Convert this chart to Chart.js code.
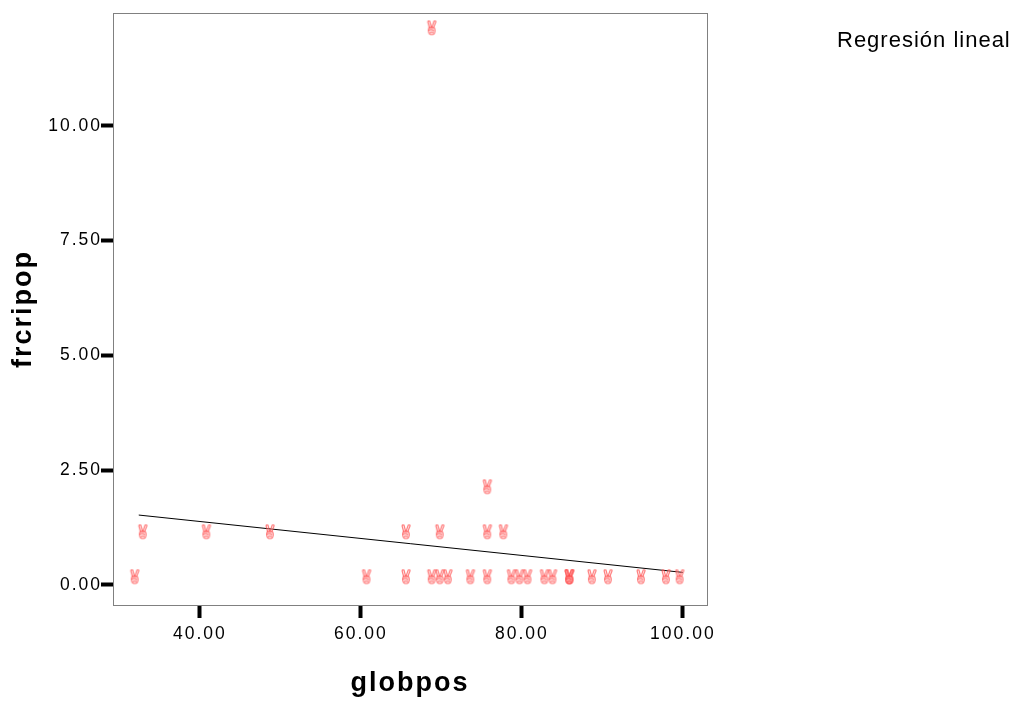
<!DOCTYPE html>
<html>
<head>
<meta charset="utf-8">
<script src="https://cdn.jsdelivr.net/npm/chart.js@4"></script>
<style>
  html, body { margin: 0; padding: 0; background: #fff; }
  #wrap { width: 1016px; height: 701px; }
</style>
</head>
<body>
<div id="wrap"><canvas id="chart"></canvas></div>
<script>
const globpos = [31.9, 32.9, 40.8, 48.7, 60.7, 65.6, 65.6, 68.8, 68.8, 69.8, 69.8, 70.8, 73.6,
  75.7, 75.7, 75.7, 77.7, 78.7, 79.7, 80.7, 82.8, 83.8, 85.9, 85.9, 85.9, 88.7, 90.7, 94.8, 97.9, 99.6];
const frcripop = [0.18, 1.16, 1.16, 1.16, 0.18, 0.18, 1.16, 0.18, 12.14, 0.18, 1.16, 0.18, 0.18,
  0.18, 1.16, 2.14, 1.16, 0.18, 0.18, 0.18, 0.18, 0.18, 0.18, 0.18, 0.18, 0.18, 0.18, 0.18, 0.18, 0.18];

// fitted line end points
const fitX = [32.4, 100];
const fitY = [1.52, 0.27];

const xTicks = [40, 60, 80, 100];
const yTicks = [0, 2.5, 5, 7.5, 10];

const points = globpos.map((x, i) => ({ x: x, y: frcripop[i] }));
const fitLine = fitX.map((x, i) => ({ x: x, y: fitY[i] }));

// little "victory hand" marker, like the spss one
const marker = document.createElement("canvas");
marker.width = 12;
marker.height = 16;
const m = marker.getContext("2d");
m.lineWidth = 1.1;
m.strokeStyle = "rgba(255, 70, 70, 0.7)";
m.fillStyle = "rgba(255, 200, 200, 0.35)";
m.lineJoin = "round";
m.lineCap = "round";
// left finger
m.beginPath();
m.moveTo(2, 2); m.quadraticCurveTo(3, 0.5, 4, 1.5); m.lineTo(5.6, 7.5); m.lineTo(3.6, 8); m.closePath();
m.fill(); m.stroke();
// right finger
m.beginPath();
m.moveTo(8.3, 1.2); m.quadraticCurveTo(9.6, 0.6, 10.2, 2); m.lineTo(7.8, 8); m.lineTo(6, 7.6); m.closePath();
m.fill(); m.stroke();
// palm
m.beginPath();
m.moveTo(3.2, 8); m.lineTo(8.6, 8); m.quadraticCurveTo(10, 11, 8.6, 14);
m.quadraticCurveTo(6, 15.6, 3.4, 14); m.quadraticCurveTo(2, 11, 3.2, 8);
m.fill(); m.stroke();
// curled fingers / thumb
m.beginPath();
m.moveTo(3, 10.5); m.quadraticCurveTo(5.5, 9, 7.8, 10.8); m.stroke();
m.beginPath();
m.moveTo(4.5, 12.8); m.quadraticCurveTo(6, 11.8, 7.4, 12.8); m.stroke();

const frame = {
  id: "frame",
  beforeDraw(chart) {
    chart.ctx.letterSpacing = "2px";
  },
  afterDraw(chart) {
    const { ctx, chartArea: a } = chart;
    ctx.save();
    ctx.strokeStyle = "#808080";
    ctx.lineWidth = 1;
    ctx.strokeRect(a.left + 0.5, a.top + 0.5, a.right - a.left, a.bottom - a.top);
    ctx.fillStyle = "#000";
    ctx.font = "22px 'Liberation Sans'";
    ctx.textAlign = "left";
    ctx.textBaseline = "alphabetic";
    ctx.letterSpacing = "1px";
    ctx.fillText("Regresión lineal", 837, 47);
    ctx.restore();
  }
};

const tickFont = { family: "'Liberation Sans'", size: 17.5 };
const titleFont = { family: "'Liberation Sans'", size: 27, weight: "bold", lineHeight: 1 };

new Chart(document.getElementById("chart"), {
  type: "scatter",
  data: {
    datasets: [
      {
        label: "frcripop",
        data: points,
        pointStyle: marker,
        pointRadius: 7
      },
      {
        type: "line",
        label: "Regresión lineal",
        data: fitLine,
        borderColor: "#000",
        borderWidth: 1,
        pointRadius: 0,
        fill: false
      }
    ]
  },
  options: {
    responsive: true,
    maintainAspectRatio: false,
    animation: false,
    events: [],
    layout: { padding: { left: 0, top: 13, right: 309, bottom: 0 } },
    plugins: { legend: { display: false }, tooltip: { enabled: false } },
    scales: {
      x: {
        type: "linear",
        min: 29.2,
        max: 103,
        afterBuildTicks: (s) => { s.ticks = xTicks.map((v) => ({ value: v })); },
        afterFit: (s) => { s.height = 96; },
        border: { display: false },
        grid: { drawOnChartArea: false, drawTicks: true, tickLength: 13, tickWidth: 4, tickColor: "#000" },
        ticks: { color: "#000", font: tickFont, padding: 6, callback: (v) => v.toFixed(2) },
        title: { display: true, text: "globpos", color: "#000", font: titleFont, padding: { top: 0, bottom: 4 } }
      },
      y: {
        type: "linear",
        min: -0.44,
        max: 12.46,
        afterBuildTicks: (s) => { s.ticks = yTicks.map((v) => ({ value: v })); },
        afterFit: (s) => { s.width = 113; },
        border: { display: false },
        grid: { drawOnChartArea: false, drawTicks: true, tickLength: 12, tickWidth: 4, tickColor: "#000" },
        ticks: { color: "#000", font: tickFont, padding: -1, callback: (v) => v.toFixed(2) },
        title: { display: true, text: "frcripop", color: "#000", font: titleFont, padding: { top: 10, bottom: 0 } }
      }
    }
  },
  plugins: [frame]
});
</script>
</body>
</html>
